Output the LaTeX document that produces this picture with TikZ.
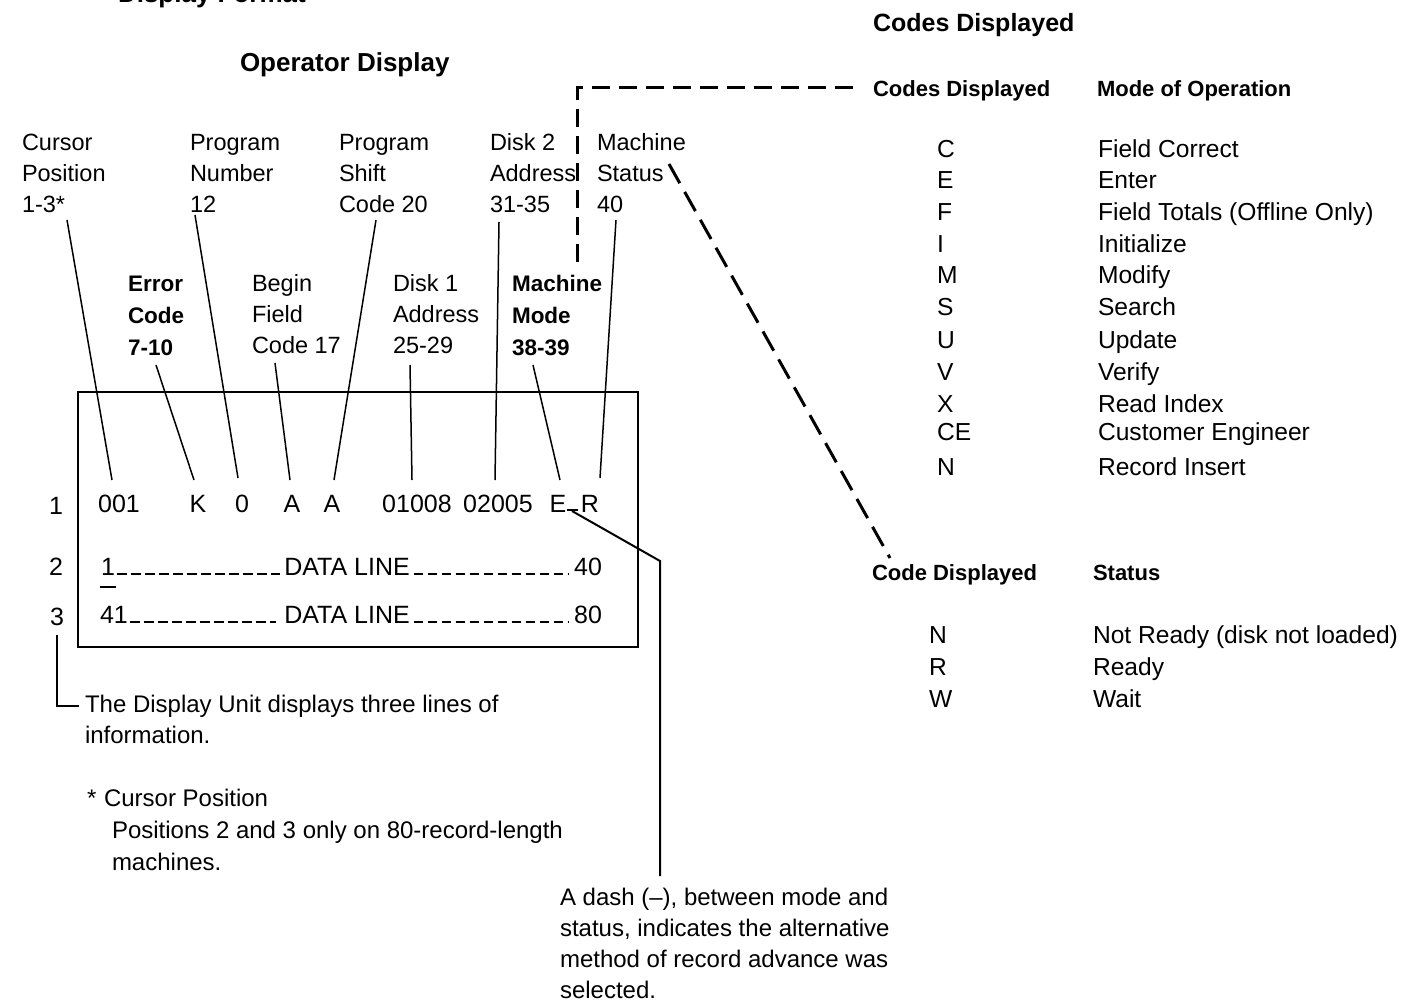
\documentclass[tikz,border=0pt]{standalone}
\usepackage{fontspec}
\setmainfont{Liberation Sans}
\begin{document}
\begin{tikzpicture}[x=0.5pt,y=-0.5pt,
  every node/.style={inner sep=0pt, outer sep=0pt},
  lab/.style={anchor=north west, align=left, font=\fontsize{11.75}{15.5}\selectfont},
  labb/.style={anchor=north west, align=left, font=\bfseries\fontsize{11.25}{16}\selectfont},
  txt/.style={anchor=base west, font=\fontsize{12}{15.5}\selectfont},
  rtxt/.style={anchor=base west, font=\fontsize{12.3}{15.5}\selectfont},
  boxtxt/.style={anchor=base, font=\fontsize{12.5}{15}\selectfont},
  hd/.style={anchor=base west, font=\bfseries\fontsize{11}{14}\selectfont},
  title/.style={anchor=base west, font=\bfseries\fontsize{13}{16}\selectfont},
  lead/.style={line width=0.75pt},
  callout/.style={line width=1pt},
  dsh/.style={line width=1.5pt, dash pattern=on 9pt off 4.5pt},
  dshdiag/.style={line width=1.5pt, dash pattern=on 11pt off 5pt},
  rowdash/.style={line width=1pt, dash pattern=on 4.8pt off 2.2pt},
]
\useasboundingbox (0,0) rectangle (1407,1006);
\clip (0,0) rectangle (1407,1006);

% titles
\node[title] (dispfmt) at (118,3) {Display Format};
\node[title] (opdisp) at (240,72) {Operator Display};
\node[anchor=base west, font=\bfseries\fontsize{12.5}{16}\selectfont] (codestitle) at (873,32) {Codes Displayed};

% labels, upper row
\node[lab] (cur)    at (22,128)  {\rule{0pt}{11pt}Cursor\\Position\\1-3*};
\node[lab] (pnum)   at (190,128) {\rule{0pt}{11pt}Program\\Number\\12};
\node[lab] (pshift) at (339,128) {\rule{0pt}{11pt}Program\\Shift\\Code 20};
\node[lab] (disk2)  at (490,128) {\rule{0pt}{11pt}Disk 2\\Address\\31-35};
\node[lab] (mstat)  at (597,128) {\rule{0pt}{11pt}Machine\\Status\\40};
% labels, lower row
\node[labb] (err)   at (128,269) {\rule{0pt}{11pt}Error\\Code\\7-10};
\node[lab]  (begin) at (252,269) {\rule{0pt}{11pt}Begin\\Field\\Code 17};
\node[lab]  (disk1) at (393,269) {\rule{0pt}{11pt}Disk 1\\Address\\25-29};
\node[labb] (mmode) at (512,269) {\rule{0pt}{11pt}Machine\\Mode\\38-39};

% display box
\draw[line width=1pt] (78,392) rectangle (638,647);
\node[boxtxt] (t001)   at (119,512) {001};
\node[boxtxt] (tK)     at (198,512) {K};
\node[boxtxt] (t0)     at (242,512) {0};
\node[boxtxt] (tA1)    at (292,512) {A};
\node[boxtxt] (tA2)    at (332,512) {A};
\node[boxtxt] (t01008) at (417,512) {01008};
\node[boxtxt] (t02005) at (498,512) {02005};
\node[boxtxt] (tE)     at (558,512) {E};
\node[boxtxt] (tR)     at (590,512) {R};
\coordinate (dashL) at (567,510);
\coordinate (dashR) at (578,510);
\draw[line width=1pt] (dashL) -- (dashR);

\node[boxtxt] (t1)  at (108,575) {1};
\node[boxtxt] (dl2) at (347,575) {DATA LINE};
\node[boxtxt] (t40) at (588,575) {40};
\node[boxtxt] (t41) at (114,623) {41};
\node[boxtxt] (dl3) at (347,623) {DATA LINE};
\node[boxtxt] (t80) at (588,623) {80};
\draw[rowdash] ([xshift=1pt,yshift=0.5pt]t1.base east) -- ([xshift=-2pt,yshift=0.5pt]dl2.base west);
\draw[rowdash] ([xshift=2pt,yshift=0.5pt]dl2.base east) -- ([xshift=-3pt,yshift=0.5pt]t40.base west);
\draw[rowdash] ([xshift=1pt,yshift=0.5pt]t41.base east) -- ([xshift=-4pt,yshift=0.5pt]dl3.base west);
\draw[rowdash] ([xshift=2pt,yshift=0.5pt]dl3.base east) -- ([xshift=-3pt,yshift=0.5pt]t80.base west);
\draw[line width=1pt] (100,587) -- (116,587);

% line numbers
\node[boxtxt] (ln1) at (56,514) {1};
\node[boxtxt] (ln2) at (56,575) {2};
\node[boxtxt] (ln3) at (57,625) {3};

% leader lines
\coordinate (curS)  at (67,220);  \coordinate (curE)  at (112,480);
\coordinate (errS)  at (156,365); \coordinate (errE)  at (194,480);
\coordinate (pnumS) at (195,215); \coordinate (pnumE) at (238,478);
\coordinate (begS)  at (275,363); \coordinate (begE)  at (290,480);
\coordinate (pshS)  at (376,220); \coordinate (pshE)  at (334,480);
\coordinate (d1S)   at (410,365); \coordinate (d1E)   at (412,480);
\coordinate (d2S)   at (499,222); \coordinate (d2E)   at (495,480);
\coordinate (mmS)   at (533,365); \coordinate (mmE)   at (560,480);
\coordinate (msS)   at (616,220); \coordinate (msE)   at (600,478);
\draw[lead] (curS) -- (curE);
\draw[lead] (errS) -- (errE);
\draw[lead] (pnumS) -- (pnumE);
\draw[lead] (begS) -- (begE);
\draw[lead] (pshS) -- (pshE);
\draw[lead] (d1S) -- (d1E);
\draw[lead] (d2S) -- (d2E);
\draw[lead] (mmS) -- (mmE);
\draw[lead] (msS) -- (msE);

% notes
\node[txt] (note1) at (85,712) {The Display Unit displays three lines of};
\node[txt] (note1b) at (85,743) {information.};
\draw[lead] ([yshift=-5pt]ln3.base) |- ([xshift=-3pt]note1.west);
\node[txt] (star) at (87,806) {*};
\node[txt] (note2) at (104,806) {Cursor Position};
\node[txt] (note2b) at (112,838) {Positions 2 and 3 only on 80-record-length};
\node[txt] (note2c) at (112,870) {machines.};

\node[txt] (dashnote) at (560,905) {A dash (–), between mode and};
\node[txt] (dashnote2) at (560,936) {status, indicates the alternative};
\node[txt] (dashnote3) at (560,967) {method of record advance was};
\node[txt] (dashnote4) at (560,998) {selected.};
\coordinate (cstart) at (572,511);
\coordinate (cbend) at (660,561);
\coordinate (cend) at (660,876);
\draw[callout] (cstart) -- (cbend) -- (cend);

% right tables
\node[hd] (hdrCodes) at (873,97) {Codes Displayed};
\node[hd] (hdrMode) at (1097,97) {Mode of Operation};
\coordinate (vdBot) at (577,262);
\coordinate (vdCorner) at (577,88);
\coordinate (vdEnd) at (862,88);
\draw[dsh] (vdBot) -- (vdCorner) -- (vdEnd);

\foreach \c/\d/\yy [count=\i] in {C/Field Correct/157, E/Enter/188, F/Field Totals (Offline Only)/220, I/Initialize/252, M/Modify/283, S/Search/315, U/Update/348, V/Verify/380, X/Read Index/412, CE/Customer Engineer/440, N/Record Insert/475}{
  \node[rtxt] (code\i) at (937,\yy) {\c};
  \node[rtxt] (desc\i) at (1098,\yy) {\d};
}

\node[hd] (hdrCode2) at (872,580) {Code Displayed};
\node[hd] (hdrStatus) at (1093,580) {Status};
\foreach \c/\d/\yy [count=\i] in {N/Not Ready (disk not loaded)/643, R/Ready/675, W/Wait/707}{
  \node[rtxt] (scode\i) at (929,\yy) {\c};
  \node[rtxt] (sdesc\i) at (1093,\yy) {\d};
}

\coordinate (diagS) at (669,164);
\coordinate (diagE) at (890,558);
\draw[dshdiag] (diagS) -- (diagE);
\end{tikzpicture}
\end{document}
